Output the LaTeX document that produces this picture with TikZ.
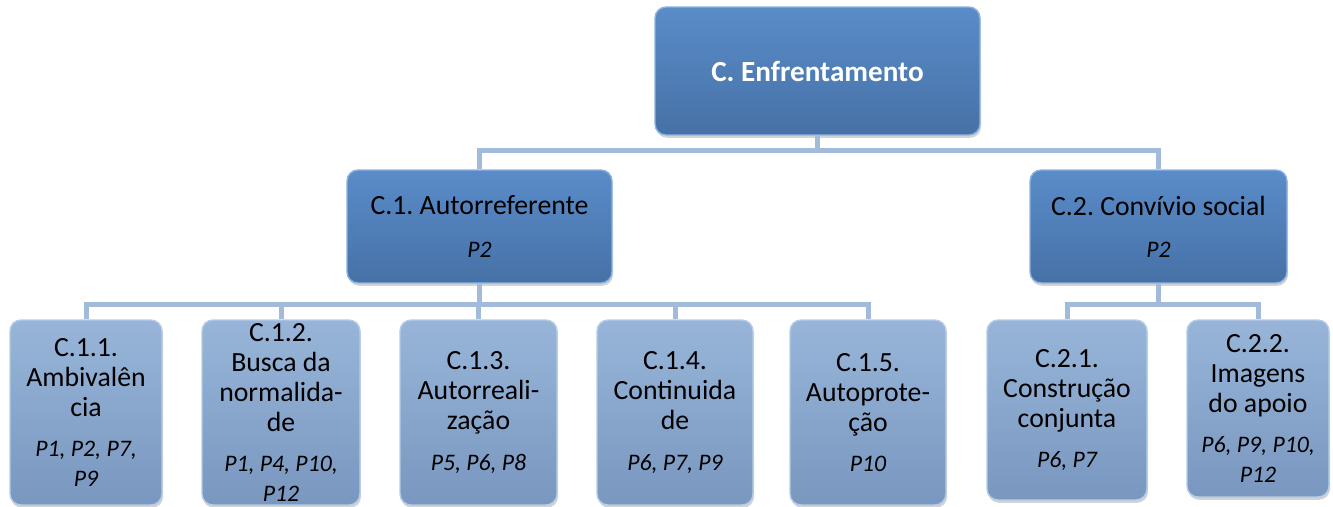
\documentclass[tikz,border=0pt]{standalone}
\usepackage{fontspec}
\setmainfont{Carlito}
\usetikzlibrary{shadows}
\frenchspacing

\definecolor{boxhi}{RGB}{90,140,201}
\definecolor{boxlo}{RGB}{70,113,166}
\definecolor{subhi}{RGB}{152,181,217}
\definecolor{sublo}{RGB}{121,151,191}
\definecolor{connc}{RGB}{163,187,219}
\definecolor{edgec}{RGB}{140,178,226}
\definecolor{subedge}{RGB}{180,204,234}

\newcommand{\plist}[1]{{\fontsize{13.5}{16}\selectfont\itshape #1}}

\begin{document}
\begin{tikzpicture}[
  x=0.02cm, y=-0.02cm,
  font=\fontsize{15.8}{17}\selectfont,
  basebox/.style={rounded corners=0.22cm, align=center, inner sep=2pt, line width=0.8pt,
    drop shadow={shadow xshift=0.6pt, shadow yshift=-1.6pt, opacity=0.35}},
  enfbox/.style={basebox, draw=edgec, top color=boxhi, bottom color=boxlo, text=white,
    font=\fontsize{16.6}{20}\selectfont\bfseries, minimum width=6.5cm, minimum height=2.56cm},
  catbox/.style={basebox, draw=edgec, top color=boxhi, bottom color=boxlo, minimum height=2.26cm},
  subbox/.style={basebox, draw=subedge, top color=subhi, bottom color=sublo},
  conn/.style={draw=connc, line width=0.1cm}
]
\useasboundingbox (0,0) rectangle (1333,507);

%--------------------------------------------------------------
% Nivel 1 e 2
%--------------------------------------------------------------
\node[enfbox] (enf) at (817.5,71) {C. Enfrentamento};

\node[catbox, minimum width=5.3cm] (c1) at (479.5,226.5) {C.1. Autorreferente\\[7pt]\plist{P2}};
\node[catbox, minimum width=5.14cm] (c2) at (1158.5,226.5) {C.2. Convívio social\\[7pt]\plist{P2}};

%--------------------------------------------------------------
% Nivel 3
%--------------------------------------------------------------
\node[subbox, minimum width=3.04cm, minimum height=3.7cm] (c11) at (86,412.5)
  {C.1.1.\\Ambivalên\\cia\\[6pt]\plist{P1, P2, P7,}\\\plist{P9}};
\node[subbox, minimum width=3.16cm, minimum height=3.7cm] (c12) at (281,412.5)
  {C.1.2.\\Busca da\\normalida-\\de\\[6pt]\plist{P1, P4, P10,}\\\plist{P12}};
\node[subbox, minimum width=3.14cm, minimum height=3.7cm] (c13) at (478.5,412.5)
  {C.1.3.\\Autorreali-\\zação\\[6pt]\plist{P5, P6, P8}};
\node[subbox, minimum width=3.12cm, minimum height=3.7cm] (c14) at (675,412.5)
  {C.1.4.\\Continuida\\de\\[6pt]\plist{P6, P7, P9}};
\node[subbox, minimum width=3.12cm, minimum height=3.7cm] (c15) at (868,412.5)
  {C.1.5.\\Autoprote-\\ção\\[6pt]\plist{P10}};

\node[subbox, minimum width=3.2cm, minimum height=3.6cm] (c21) at (1067,410)
  {C.2.1.\\Construção\\conjunta\\[6pt]\plist{P6, P7}};
\node[subbox, minimum width=2.84cm, minimum height=3.54cm] (c22) at (1258,408.5)
  {C.2.2.\\Imagens\\do apoio\\[6pt]\plist{P6, P9, P10,}\\\plist{P12}};

%--------------------------------------------------------------
% Ligacoes
%--------------------------------------------------------------
\foreach \n in {c1, c2}{
  \draw[conn] (enf.south) -- ++(0,15) -| (\n.north);
}
\foreach \n in {c11, c12, c13, c14, c15}{
  \draw[conn] (c1.south) -- ++(0,21) -| (\n.north);
}
\foreach \n in {c21, c22}{
  \draw[conn] (c2.south) -- ++(0,21) -| (\n.north);
}

\end{tikzpicture}
\end{document}
